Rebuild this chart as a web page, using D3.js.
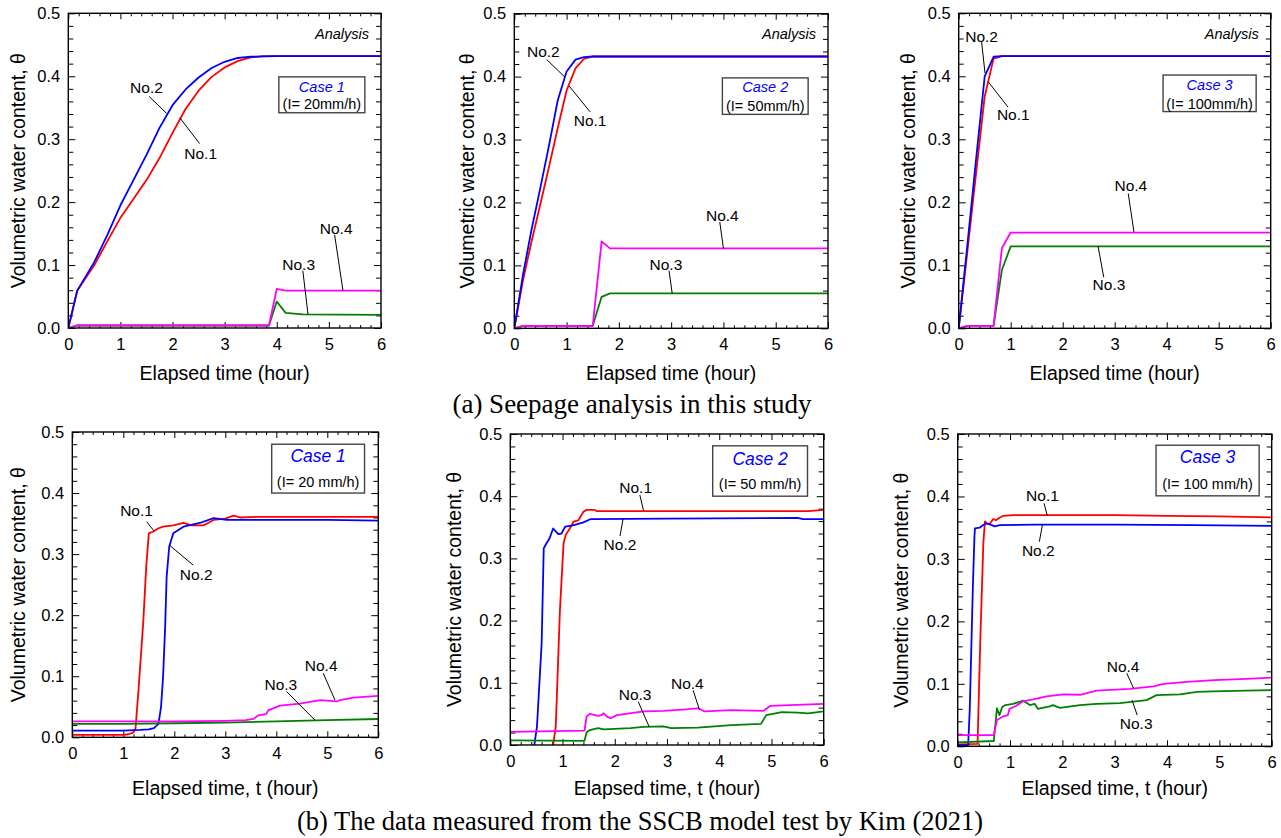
<!DOCTYPE html>
<html><head><meta charset="utf-8">
<script src="https://cdn.jsdelivr.net/npm/d3@7"></script>
<style>body{margin:0;background:#fff}</style>
</head><body>
<svg id="c" width="1281" height="838"></svg>
<script>
// ---------- DATA: [time (hour), volumetric water content] ----------
// (a) Seepage analysis
const a1No1 = [[0,0],[0.17,0.059],[0.5,0.1],[0.75,0.138],[1,0.175],[1.25,0.205],[1.5,0.235],[1.75,0.27],[2,0.31],[2.25,0.348],[2.5,0.377],[2.75,0.399],[3,0.414],[3.25,0.424],[3.5,0.43],[3.75,0.432],[6,0.432]];
const a1No2 = [[0,0],[0.17,0.059],[0.5,0.105],[0.75,0.148],[1,0.195],[1.25,0.235],[1.5,0.275],[1.75,0.318],[2,0.354],[2.25,0.379],[2.5,0.398],[2.75,0.413],[3,0.423],[3.25,0.429],[3.5,0.431],[4,0.432],[6,0.432]];
const a1No3 = [[0,0],[0.17,0.004],[3.85,0.004],[4.0,0.042],[4.17,0.024],[4.5,0.0215],[6,0.021]];
const a1No4 = [[0,0],[0.17,0.004],[3.85,0.004],[4.0,0.062],[4.17,0.0595],[6,0.0595]];

const a2No1 = [[0,0],[0.17,0.078],[0.33,0.138],[0.5,0.198],[0.67,0.259],[0.83,0.318],[1.0,0.378],[1.17,0.413],[1.33,0.428],[1.5,0.432],[6,0.432]];
const a2No2 = [[0,0],[0.17,0.087],[0.33,0.157],[0.5,0.224],[0.67,0.293],[0.83,0.362],[1.0,0.408],[1.17,0.427],[1.33,0.431],[1.5,0.432],[6,0.432]];
const a2No3 = [[0,0],[0.17,0.004],[1.5,0.004],[1.67,0.05],[1.83,0.0555],[6,0.0555]];
const a2No4 = [[0,0],[0.17,0.004],[1.5,0.004],[1.67,0.138],[1.83,0.127],[6,0.127]];

const a3No1 = [[0,0],[0.17,0.124],[0.33,0.243],[0.5,0.368],[0.67,0.428],[0.83,0.432],[6,0.432]];
const a3No2 = [[0,0],[0.17,0.135],[0.33,0.265],[0.5,0.4],[0.67,0.431],[0.83,0.432],[6,0.432]];
const a3No3 = [[0,0],[0.17,0.004],[0.67,0.004],[0.83,0.0925],[1.0,0.13],[6,0.13]];
const a3No4 = [[0,0],[0.17,0.004],[0.67,0.004],[0.83,0.127],[1.0,0.152],[6,0.152]];

// (b) Measured data (SSCB model test)
const b1No1 = [[0,0.004],[0.5,0.004],[1.0,0.004],[1.1,0.005],[1.2,0.008],[1.24,0.015],[1.3,0.08],[1.39,0.187],[1.45,0.28],[1.5,0.334],[1.59,0.337],[1.68,0.342],[1.78,0.345],[1.98,0.347],[2.18,0.351],[2.34,0.347],[2.57,0.347],[2.77,0.356],[3.0,0.358],[3.16,0.363],[3.29,0.36],[3.6,0.361],[4.5,0.361],[6,0.361]];
const b1No2 = [[0,0.011],[1.0,0.011],[1.33,0.012],[1.5,0.013],[1.6,0.015],[1.69,0.022],[1.74,0.05],[1.78,0.099],[1.82,0.18],[1.85,0.263],[1.9,0.312],[1.98,0.334],[2.18,0.345],[2.5,0.351],[2.77,0.359],[3.03,0.356],[4,0.356],[5,0.356],[6,0.355]];
const b1No3 = [[0,0.022],[1,0.022],[2,0.023],[3,0.024],[4,0.026],[5,0.028],[6,0.03]];
const b1No4 = [[0,0.026],[1,0.026],[2,0.026],[3,0.027],[3.4,0.028],[3.55,0.03],[3.65,0.036],[3.8,0.038],[3.84,0.044],[4.07,0.052],[4.46,0.055],[4.86,0.061],[5.2,0.059],[5.25,0.061],[5.51,0.065],[6,0.068]];

const b2No1 = [[0.82,0],[0.87,0.029],[0.95,0.217],[1.02,0.324],[1.06,0.338],[1.14,0.348],[1.21,0.359],[1.3,0.361],[1.4,0.375],[1.46,0.378],[1.62,0.378],[1.65,0.376],[3,0.376],[5,0.376],[5.7,0.376],[6,0.378]];
const b2No2 = [[0.46,0],[0.51,0.029],[0.6,0.163],[0.64,0.316],[0.69,0.324],[0.75,0.332],[0.82,0.348],[0.92,0.339],[0.98,0.34],[1.05,0.351],[1.2,0.353],[1.4,0.358],[1.53,0.363],[3,0.364],[5.5,0.365],[5.6,0.363],[6,0.363]];
const b2No3 = [[0,0.0075],[1.42,0.0066],[1.46,0.02],[1.52,0.024],[1.68,0.027],[1.79,0.025],[2.3,0.027],[2.55,0.029],[2.93,0.03],[3.08,0.027],[3.59,0.028],[4.23,0.032],[4.8,0.034],[4.9,0.048],[5.2,0.053],[5.5,0.052],[5.7,0.051],[6,0.054]];
const b2No4 = [[0,0.021],[1.42,0.023],[1.46,0.0455],[1.52,0.05],[1.68,0.047],[1.74,0.048],[1.79,0.051],[1.85,0.0455],[1.92,0.043],[2.04,0.048],[2.55,0.054],[2.93,0.055],[3.3,0.057],[3.59,0.059],[3.72,0.054],[4.23,0.056],[4.85,0.055],[4.98,0.063],[5.62,0.065],[6,0.066]];

const b3No1 = [[0,0.003],[0.38,0.004],[0.43,0.165],[0.49,0.325],[0.52,0.36],[0.55,0.357],[0.61,0.356],[0.68,0.364],[0.73,0.362],[0.8,0.366],[0.87,0.369],[1.06,0.37],[2,0.37],[3,0.37],[4,0.369],[5,0.368],[6,0.3665]];
const b3No2 = [[0,0.002],[0.2,0.002],[0.23,0.058],[0.29,0.256],[0.32,0.336],[0.33,0.349],[0.42,0.35],[0.48,0.354],[0.55,0.357],[0.65,0.354],[0.71,0.352],[0.8,0.354],[1.5,0.355],[3,0.355],[4.5,0.354],[6,0.353]];
const b3No3 = [[0,0.0064],[0.69,0.0085],[0.75,0.061],[0.8,0.05],[0.85,0.063],[0.91,0.066],[1.06,0.068],[1.25,0.073],[1.38,0.066],[1.47,0.068],[1.53,0.06],[1.76,0.064],[1.82,0.066],[1.95,0.0615],[2.34,0.066],[2.65,0.068],[3.1,0.069],[3.61,0.074],[3.8,0.082],[4.25,0.083],[4.57,0.087],[4.89,0.088],[5.52,0.089],[6,0.09]];
const b3No4 = [[0,0.018],[0.69,0.018],[0.75,0.042],[0.87,0.048],[0.96,0.05],[0.99,0.06],[1.12,0.065],[1.25,0.072],[1.44,0.075],[1.7,0.08],[2.02,0.083],[2.34,0.0825],[2.65,0.089],[3.29,0.092],[3.74,0.096],[3.93,0.1],[4.38,0.103],[4.89,0.106],[5.52,0.108],[6,0.11]];

// tick values
const xMajorTicks = [0,1,2,3,4,5,6];
const yMajorTicks = [0,0.1,0.2,0.3,0.4,0.5];

const seriesNames = ["No.1","No.2","No.3","No.4"];
const caseNames = ["Case 1","Case 2","Case 3"];
const rainA = ["(I= 20mm/h)","(I= 50mm/h)","(I= 100mm/h)"];
const rainB = ["(I= 20 mm/h)","(I= 50 mm/h)","(I= 100 mm/h)"];
const captions = ["(a) Seepage analysis in this study","(b) The data measured from the SSCB model test by Kim (2021)"];

// ---------- LAYOUT / STYLE ----------
const FONT = "Arial, 'Liberation Sans', sans-serif";
const colors = {"No.1":"#ff0000","No.2":"#0000ff","No.3":"#008000","No.4":"#ff00ff"};

// annotation positions in data coordinates: text [t,v], leader [t1,v1,t2,v2]
const panels = [
 {box:[68.3,381,13.3,328], ytx:18.3, xtitleY:380, xtitle:"Elapsed time (hour)", analysis:true,
  data:{"No.1":a1No1,"No.2":a1No2,"No.3":a1No3,"No.4":a1No4},
  ann:[["No.2",1.50,0.382,[1.55,0.368,1.885,0.341]],["No.1",2.54,0.277,[2.14,0.334,2.52,0.293]],
       ["No.4",5.14,0.159,[5.11,0.148,5.27,0.0595]],["No.3",4.42,0.101,[4.5,0.091,4.6,0.0215]]],
  legend:{box:[4.04,5.69,0.399,0.342], c:0.384, r:0.356, caseSize:14.5, rSize:14.5, caseIdx:0, rain:rainA[0]}},
 {box:[514.3,828,13.7,328.3], ytx:466.7, xtitleY:380, xtitle:"Elapsed time (hour)", analysis:true,
  data:{"No.1":a2No1,"No.2":a2No2,"No.3":a2No3,"No.4":a2No4},
  ann:[["No.2",0.555,0.44,[0.62,0.427,0.97,0.399]],["No.1",1.45,0.33,[1.05,0.385,1.45,0.344]],
       ["No.4",3.98,0.18,[3.93,0.169,4.0,0.127]],["No.3",2.9,0.102,[2.96,0.0915,3.02,0.0555]]],
  legend:{box:[3.98,5.62,0.398,0.34], c:0.384, r:0.353, caseSize:14.5, rSize:14.5, caseIdx:1, rain:rainA[1]}},
 {box:[958.7,1270.7,13.3,328.3], ytx:908.3, xtitleY:380, xtitle:"Elapsed time (hour)", analysis:true,
  data:{"No.1":a3No1,"No.2":a3No2,"No.3":a3No3,"No.4":a3No4},
  ann:[["No.2",0.44,0.464,[0.44,0.455,0.506,0.405]],["No.1",1.05,0.34,[0.57,0.391,0.95,0.351]],
       ["No.4",3.31,0.2275,[3.26,0.214,3.37,0.153]],["No.3",2.89,0.07,[2.68,0.13,2.79,0.081]]],
  legend:{box:[3.93,5.72,0.402,0.344], c:0.386, r:0.356, caseSize:14.5, rSize:14.5, caseIdx:2, rain:rainA[2]}},
 {box:[72.3,378.3,432,737.3], ytx:18.3, xtitleY:795, xtitle:"Elapsed time, t (hour)", analysis:false,
  data:{"No.1":b1No1,"No.2":b1No2,"No.3":b1No3,"No.4":b1No4},
  ann:[["No.1",1.26,0.372,[1.46,0.353,1.6,0.338]],["No.2",2.43,0.266,[2.37,0.282,1.9,0.315]],
       ["No.4",4.88,0.118,[4.92,0.105,5.15,0.061]],["No.3",4.09,0.087,[4.2,0.075,4.76,0.028]]],
  legend:{box:[3.91,5.73,0.48,0.4], c:0.461, r:0.419, caseSize:17.5, rSize:14.5, caseIdx:0, rain:rainB[0]}},
 {box:[510.3,823.7,434,745], ytx:454, xtitleY:795, xtitle:"Elapsed time, t (hour)", analysis:false,
  data:{"No.1":b2No1,"No.2":b2No2,"No.3":b2No3,"No.4":b2No4},
  ann:[["No.1",2.4,0.414,[2.48,0.402,2.55,0.377]],["No.2",2.1,0.323,[2.1,0.336,2.16,0.364]],
       ["No.4",3.39,0.099,[3.5,0.088,3.62,0.057]],["No.3",2.39,0.082,[2.45,0.0696,2.66,0.029]]],
  legend:{box:[3.875,5.69,0.481,0.4], c:0.461, r:0.42, caseSize:17.5, rSize:14.5, caseIdx:1, rain:rainB[1]}},
 {box:[957.7,1271.7,434,746.3], ytx:900.7, xtitleY:795, xtitle:"Elapsed time, t (hour)", analysis:false,
  data:{"No.1":b3No1,"No.2":b3No2,"No.3":b3No3,"No.4":b3No4},
  ann:[["No.1",1.62,0.401,[1.65,0.389,1.71,0.37]],["No.2",1.54,0.314,[1.56,0.3276,1.62,0.355]],
       ["No.4",3.16,0.1286,[3.23,0.117,3.36,0.093]],["No.3",3.41,0.0368,[3.43,0.05,3.33,0.074]]],
  legend:{box:[3.79,5.76,0.482,0.401], c:0.464, r:0.42, caseSize:17.5, rSize:14.5, caseIdx:2, rain:rainB[2]}}
];

const svg = d3.select("#c");
svg.append("rect").attr("width",1281).attr("height",838).attr("fill","#fff");

panels.forEach((p,i)=>{
  const [x0,x1,y0,y1] = p.box;
  const x = d3.scaleLinear().domain([0,6]).range([x0,x1]);
  const y = d3.scaleLinear().domain([0,0.5]).range([y1,y0]);
  const g = svg.append("g");

  const clipId = "clip"+i;
  svg.append("clipPath").attr("id",clipId).append("rect")
    .attr("x",x0).attr("y",y0).attr("width",x1-x0).attr("height",y1-y0);

  // axes
  const xMinor = d3.range(0,30).map(k=>k*0.2).filter(v=>Math.abs(v-Math.round(v))>1e-6);
  const yMinor = d3.range(0,25).map(k=>k*0.02).filter(v=>Math.abs(v*10-Math.round(v*10))>1e-6);
  const axG = g.append("g");
  axG.append("g").attr("transform",`translate(0,${y1})`)
    .call(d3.axisBottom(x).tickValues(xMajorTicks).tickSize(-6).tickPadding(10).tickFormat(d3.format("d")));
  axG.append("g").attr("transform",`translate(0,${y1})`)
    .call(d3.axisBottom(x).tickValues(xMinor).tickSize(-3).tickFormat(""));
  axG.append("g").attr("transform",`translate(0,${y0})`)
    .call(d3.axisTop(x).tickValues(xMajorTicks).tickSize(-6).tickFormat(""));
  axG.append("g").attr("transform",`translate(0,${y0})`)
    .call(d3.axisTop(x).tickValues(xMinor).tickSize(-3).tickFormat(""));
  axG.append("g").attr("transform",`translate(${x0},0)`)
    .call(d3.axisLeft(y).tickValues(yMajorTicks).tickSize(-7).tickPadding(8).tickFormat(d3.format(".1f")));
  axG.append("g").attr("transform",`translate(${x0},0)`)
    .call(d3.axisLeft(y).tickValues(yMinor).tickSize(-5).tickFormat(""));
  axG.append("g").attr("transform",`translate(${x1},0)`)
    .call(d3.axisRight(y).tickValues(yMajorTicks).tickSize(-7).tickFormat(""));
  axG.append("g").attr("transform",`translate(${x1},0)`)
    .call(d3.axisRight(y).tickValues(yMinor).tickSize(-5).tickFormat(""));
  axG.selectAll(".domain").remove();
  axG.selectAll(".tick line").attr("stroke","#000").attr("stroke-width",1);
  axG.selectAll(".tick text").attr("font-family",FONT).attr("font-size",16.5).attr("fill","#000");

  // lines
  const line = d3.line().x(d=>x(d[0])).y(d=>y(d[1]));
  const lg = g.append("g").attr("clip-path",`url(#${clipId})`);
  ["No.1","No.2","No.3","No.4"].forEach(k=>{
    lg.append("path").datum(p.data[k]).attr("d",line)
      .attr("fill","none").attr("stroke",colors[k]).attr("stroke-width",1.8)
      .attr("stroke-linejoin","round");
  });

  // frame
  g.append("rect").attr("x",x0).attr("y",y0).attr("width",x1-x0).attr("height",y1-y0)
    .attr("fill","none").attr("stroke","#000").attr("stroke-width",1.4);

  // annotations
  p.ann.forEach(a=>{
    const [txt,tx,ty,ld] = a;
    g.append("line").attr("x1",x(ld[0])).attr("y1",y(ld[1])).attr("x2",x(ld[2])).attr("y2",y(ld[3]))
      .attr("stroke","#000").attr("stroke-width",1);
    g.append("text").attr("x",x(tx)).attr("y",y(ty)).attr("dy","0.36em")
      .attr("text-anchor","middle").attr("font-family",FONT).attr("font-size",15.5).text(txt);
  });

  if (p.analysis) {
    g.append("text").attr("x",x(5.77)).attr("y",y(0.468)).attr("dy","0.36em")
      .attr("text-anchor","end").attr("font-family",FONT).attr("font-size",14.5)
      .attr("font-style","italic").text("Analysis");
  }

  // legend box
  const L = p.legend;
  g.append("rect").attr("x",x(L.box[0])).attr("y",y(L.box[2]))
    .attr("width",x(L.box[1])-x(L.box[0])).attr("height",y(L.box[3])-y(L.box[2]))
    .attr("fill","#fff").attr("stroke","#444").attr("stroke-width",1.4);
  const cx = (x(L.box[0])+x(L.box[1]))/2;
  g.append("text").attr("x",cx).attr("y",y(L.c)).attr("dy","0.36em").attr("text-anchor","middle")
    .attr("font-family",FONT).attr("font-size",L.caseSize).attr("font-style","italic")
    .attr("fill","#0000ff").text(caseNames[L.caseIdx]);
  g.append("text").attr("x",cx).attr("y",y(L.r)).attr("dy","0.36em").attr("text-anchor","middle")
    .attr("font-family",FONT).attr("font-size",L.rSize).attr("fill","#000").text(L.rain);

  // axis titles
  g.append("text").attr("x",(x0+x1)/2).attr("y",p.xtitleY).attr("text-anchor","middle")
    .attr("font-family",FONT).attr("font-size",19.5).attr("fill","#000").text(p.xtitle);
  g.append("text").attr("transform",`translate(${p.ytx},${(y0+y1)/2}) rotate(-90)`)
    .attr("dy","0.36em").attr("text-anchor","middle")
    .attr("font-family",FONT).attr("font-size",19.5).attr("fill","#000").text("Volumetric water content, θ");
});

// captions
svg.append("text").attr("x",632).attr("y",413).attr("text-anchor","middle")
  .attr("font-family","'Times New Roman', 'Liberation Serif', serif").attr("font-size",27).text(captions[0]);
svg.append("text").attr("x",640).attr("y",830).attr("text-anchor","middle")
  .attr("font-family","'Times New Roman', 'Liberation Serif', serif").attr("font-size",26.5).text(captions[1]);
</script>
</body></html>
